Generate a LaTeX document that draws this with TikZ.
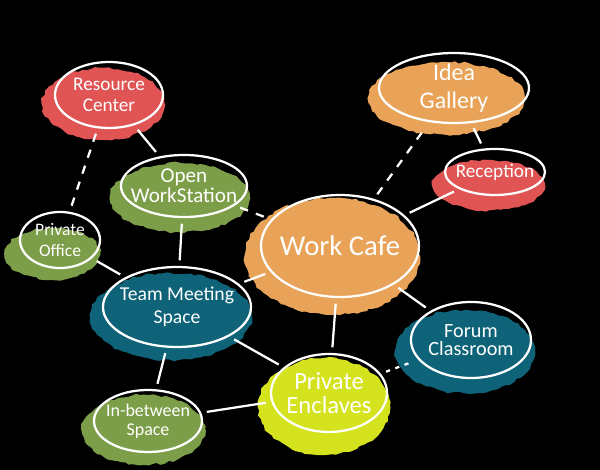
\documentclass[tikz,border=0pt]{standalone}
\usepackage{fontspec}
\setmainfont{Carlito}
\usetikzlibrary{shapes.geometric, positioning, backgrounds, calc, decorations.pathmorphing}

\definecolor{blobred}{RGB}{224,84,84}
\definecolor{blobgreen}{RGB}{125,158,72}
\definecolor{blobteal}{RGB}{14,99,120}
\definecolor{bloborange}{RGB}{232,163,88}
\definecolor{blobyellow}{RGB}{213,226,30}

\begin{document}
\begin{tikzpicture}[
  space/.style={ellipse, draw=white, line width=1.6pt, inner sep=0pt},
  tag/.style={align=center, text=white, inner sep=0pt},
  blob/.style={decorate, decoration={random steps, segment length=3pt, amplitude=0.9pt}},
  link/.style={white, line width=1.6pt, shorten <=4pt, shorten >=4pt},
  dlink/.style={link, dash pattern=on 6pt off 6pt}]

  \pgfmathsetseed{7}
  \useasboundingbox (0,0) rectangle (15,-11.75);

  \node[space, minimum width=3.95cm, minimum height=2.55cm, label={[tag, font=\fontsize{20.4}{22}\selectfont]center:Work Cafe}] (wc) at (8.5,-6.15) {};
  \node[space, minimum width=2.7cm, minimum height=1.65cm, label={[tag, font=\fontsize{13.7}{14.5}\selectfont]center:Resource\\Center}] (rc) at (2.725,-2.375) {};
  \node[space, minimum width=3.15cm, minimum height=1.55cm, label={[tag, font=\fontsize{15}{14.5}\selectfont]center:Open\\WorkStation}] (ow) at (4.6,-4.65) {};
  \node[space, minimum width=2.0cm, minimum height=1.4cm, label={[tag, font=\fontsize{12.5}{14.5}\selectfont]center:Private\\Office}] (po) at (1.5,-6.0) {};
  \node[space, minimum width=3.7cm, minimum height=2.0cm, label={[tag, font=\fontsize{14}{16}\selectfont]center:Team Meeting\\Space}] (tm) at (4.425,-7.675) {};
  \node[space, minimum width=2.7cm, minimum height=1.55cm, label={[tag, font=\fontsize{12.8}{13.5}\selectfont]center:In-between\\Space}] (ib) at (3.7,-10.525) {};
  \node[space, minimum width=3.75cm, minimum height=1.75cm, label={[tag, font=\fontsize{17}{19.5}\selectfont]center:Idea\\Gallery}] (ig) at (11.35,-2.2) {};
  \node[space, minimum width=2.5cm, minimum height=1.15cm, label={[tag, font=\fontsize{13.7}{14}\selectfont]center:Reception}] (re) at (12.375,-4.3) {};
  \node[space, minimum width=3.0cm, minimum height=1.9cm, label={[tag, font=\fontsize{14.4}{13}\selectfont]center:Forum\\Classroom}] (fc) at (11.775,-8.5) {};
  \node[space, minimum width=2.9cm, minimum height=1.95cm, label={[tag, font=\fontsize{17.5}{17.5}\selectfont]center:Private\\Enclaves}] (pe) at (8.225,-9.825) {};

  \begin{scope}[on background layer]
    \fill[black] (0,0) rectangle (15,-11.75);
    \fill[blobred, blob] ($(rc)+(-0.14,-0.22)$) ellipse [x radius=1.53, y radius=0.9];
    \fill[blobgreen, blob] ($(ow)+(-0.1,-0.29)$) ellipse [x radius=1.75, y radius=0.87];
    \fill[blobgreen, blob] ($(po)+(-0.19,-0.35)$) ellipse [x radius=1.19, y radius=0.65];
    \fill[blobteal, blob] ($(tm)+(-0.15,-0.24)$) ellipse [x radius=2.02, y radius=1.09];
    \fill[blobgreen, blob] ($(ib)+(-0.11,-0.22)$) ellipse [x radius=1.54, y radius=0.875];
    \fill[bloborange, blob] ($(wc)+(-0.19,-0.26)$) ellipse [x radius=2.19, y radius=1.46];
    \fill[bloborange, blob] ($(ig)+(-0.19,-0.26)$) ellipse [x radius=1.96, y radius=0.91];
    \fill[blobred, blob] ($(re)+(-0.16,-0.33)$) ellipse [x radius=1.41, y radius=0.63];
    \fill[blobteal, blob] ($(fc)+(-0.15,-0.29)$) ellipse [x radius=1.75, y radius=1.04];
    \fill[blobyellow, blob] ($(pe)+(-0.125,-0.34)$) ellipse [x radius=1.65, y radius=1.21];
  \end{scope}

  \draw[dlink] (rc) -- (po);
  \draw[link] (rc) -- (ow);
  \draw[dlink] (ow) -- (wc);
  \draw[link] (ow) -- (tm);
  \draw[link] (po) -- (tm);
  \draw[link] (tm) -- (wc);
  \draw[link] (tm) -- (pe);
  \draw[link] (tm) -- (ib);
  \draw[link] (ib) -- (pe);
  \draw[link] (wc) -- (pe);
  \draw[link] (wc) -- (fc);
  \draw[dlink, dash pattern=on 3pt off 4pt] (pe) -- (fc);
  \draw[dlink] (wc) -- (ig);
  \draw[link] (ig) -- (re);
  \draw[link] (re) -- (wc);

\end{tikzpicture}
\end{document}
